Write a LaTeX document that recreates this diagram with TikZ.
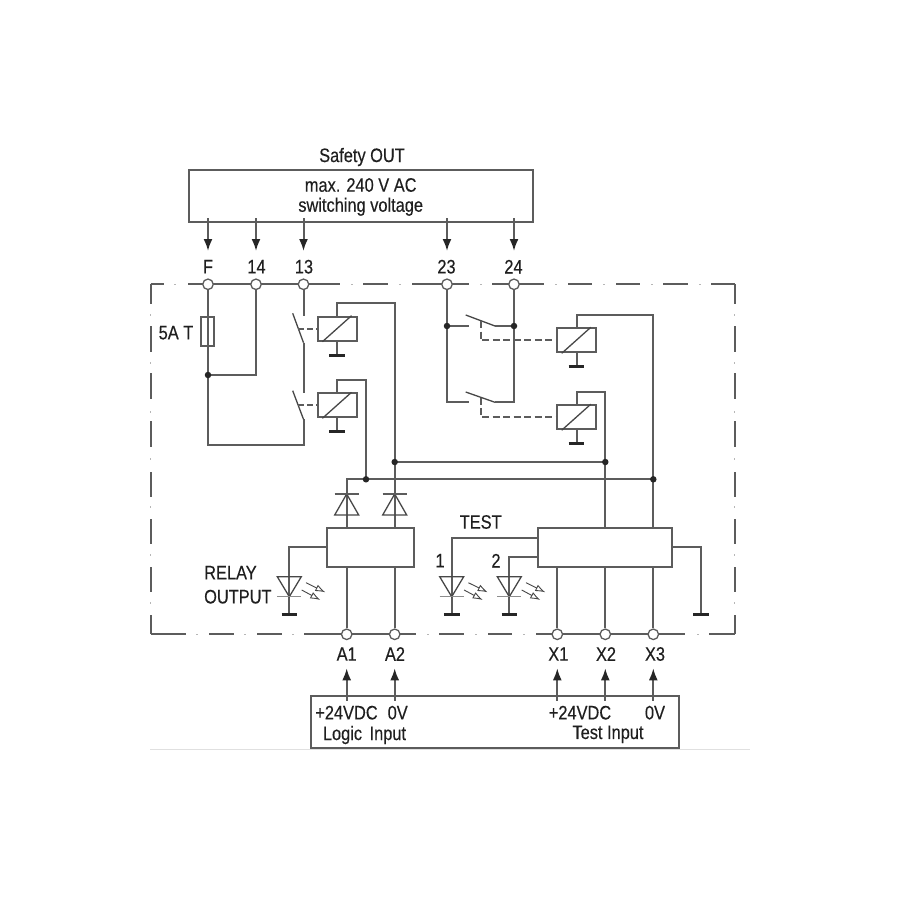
\documentclass[tikz,border=0pt]{standalone}
\usepackage{fontspec}
\setmainfont[FakeStretch=0.84,FakeBold=0.25]{Liberation Sans}
\usetikzlibrary{arrows.meta,calc}
\definecolor{ink}{HTML}{5C5C5C}
\definecolor{tipink}{HTML}{262626}
\tikzset{
  wire/.style={draw=ink,line width=2pt},
  slant/.style={draw=tipink!85,line width=1.3pt},
  flow/.style={wire,-{Latex[length=12pt,width=9pt,color=tipink]}},
  pilot/.style={wire,dash pattern=on 7pt off 3.5pt},
  frameline/.style={wire},
  framedot/.style={draw=ink!45,line width=1pt},
  bar/.style={draw=tipink,line width=3pt},
  terminal/.style={circle,draw=ink,line width=1.3pt,fill=white,minimum size=10.5pt,inner sep=0pt},
  junction/.style={circle,fill=tipink,minimum size=6.5pt,inner sep=0pt},
  block/.style={rectangle,draw=ink,line width=2pt,fill=white,inner sep=0pt},
  coilbox/.style={block,minimum width=38.6pt,minimum height=24pt},
  lbl/.style={font=\fontsize{19.5}{22}\selectfont,text=black!88,inner sep=0pt,anchor=center},
  lightray/.style={draw=tipink!85,line width=.9pt,-{Latex[open,length=10pt,width=7pt]}}
}
% coil: name, centre x, centre y
\newcommand{\coilat}[3]{%
  \node[coilbox] (#1) at (#2,#3) {};
  \draw[slant] ($(#1.south west)+(5.5,0)$) -- ($(#1.north east)+(-6,0)$);
  \coordinate (#1g) at ($(#1.south)+(0,13.3)$);
  \draw[wire] (#1.south) -- (#1g);
  \draw[bar] ($(#1g)+(-7.8,0)$) -- ($(#1g)+(7.8,0)$);
}
% led: x of its wire
\newcommand{\ledat}[1]{%
  \draw[slant] (#1-12,576.7) -- (#1+12,576.7) -- (#1,596.7) -- cycle;
  \draw[draw=ink!70,line width=1pt] (#1-12,596.7) -- (#1+12,596.7);
  \draw[bar] (#1-7.8,614) -- (#1+7.8,614);
  \draw[lightray] (#1+16.7,582.7) -- (#1+36,592.3);
  \draw[lightray] (#1+12.4,590) -- (#1+31,600);
}
\begin{document}
\begin{tikzpicture}[x=1pt,y=-1pt]
\useasboundingbox (0,0) rectangle (900,900);
\fill[white] (0,0) rectangle (900,900);

% faint base line
\draw[draw=black!12,line width=1pt] (150,749.3) -- (750,749.3);

% dash-dot enclosure
\foreach \a/\b in {150.5/164,188/340,363/388,412/442,452/469,492/544,568/592,616/640,663/688,711/734.5}
  \draw[frameline] (\a,284.3) -- (\b,284.3);
\foreach \a in {175,352,400,481,556,604,652,700}
  \draw[framedot] (\a-.8,284.3) -- (\a+.8,284.3);
\foreach \a/\b in {150.5/186,209/234,257/282,304/416,439/464,488/512,536/685,709/734.5}
  \draw[frameline] (\a,634.3) -- (\b,634.3);
\foreach \a in {197,245,293,428,476,524,698}
  \draw[framedot] (\a-.8,634.3) -- (\a+.8,634.3);
\foreach \xx in {150.5,734.5}{
  \foreach \a/\b in {284.3/304,326/352,373/399,421/447,472/497,519/544,567/592,615/634.3}
    \draw[frameline] (\xx,\a) -- (\xx,\b);
  \foreach \a in {315,363,412,459,507,555,603}
    \draw[framedot] (\xx,\a-.8) -- (\xx,\a+.8);
}

% supply boxes
\node[block,minimum width=344.3pt,minimum height=52pt] (out) at (360.85,196) {};
\node[block,minimum width=367.7pt,minimum height=52.3pt] (inp) at (495.15,722.15) {};

% logic blocks
\node[block,minimum width=87pt,minimum height=38.4pt] (logic) at (370.8,547.5) {};
\node[block,minimum width=134.6pt,minimum height=38.4pt] (test) at (605,547.5) {};

% coils
\coilat{c1}{337.2}{328.7}
\coilat{c2}{337.2}{405.3}
\coilat{c3}{576.5}{340.3}
\coilat{c4}{576.5}{417.2}

% fuse
\coordinate (busF) at (208,444.5);
\coordinate (j14) at (208,375);
\draw[wire] (208,284.3) -- (busF) -- (303.5,444.5) -- (303.5,419.3);
\node[block,fill=none,minimum width=13.3pt,minimum height=29pt] (fuse) at (207.7,331.8) {};
\draw[wire] (j14) -| (256,284.3);

% left contacts
\draw[wire] (303.5,284.3) -- (303.5,316);
\draw[slant] (292.7,313.3) -- (303.5,342.7);
\draw[wire] (303.5,342.7) -- (303.5,393);
\draw[slant] (292.7,390.7) -- (303.5,419.3);
\draw[wire,dash pattern=on 6pt off 3pt] (298,328.7) -- (c1.west);
\draw[wire,dash pattern=on 6pt off 3pt] (298,405.3) -- (c2.west);

% right contacts
\coordinate (j23) at (447,326);
\coordinate (j24) at (514,326);
\draw[wire] (447,284.3) -- (447,402.3) -- (469.3,402.3);
\draw[wire] (514,284.3) -- (514,402.3) -- (495,402.3);
\draw[slant] (495,402.3) -- (465.7,392);
\draw[wire] (j23) -- (469.3,326);
\draw[wire] (j24) -- (495,326);
\draw[slant] (495,326) -- (465.7,315);
\draw[pilot] (480.7,321) -- (480.7,340.3) -- (c3.west);
\draw[pilot] (480.7,397.5) -- (480.7,417.2) -- (c4.west);

% coil feeds
\coordinate (busA) at (394.7,462);
\coordinate (busB) at (366,479.3);
\coordinate (busC) at (605.3,462);
\coordinate (busD) at (653.3,479.3);
\draw[wire] (c1.north) -- (337.2,303.3) -- (394.7,303.3) -- (394.7,528.3);
\draw[wire] (c2.north) -- (337.2,379.7) -- (366,379.7) -- (busB);
\draw[wire] (c3.north) -- (576.5,315) -- (653.3,315) -- (653.3,528.3);
\draw[wire] (c4.north) -- (576.5,391.7) -- (605.3,391.7) -- (605.3,528.3);
\draw[wire] (busA) -- (busC);
\draw[wire] (346.7,528.3) -- (346.7,479.3) -- (busD);

% diodes
\foreach \xx in {346.7,394.7}{
  \draw[slant] (\xx-12,515) -- (\xx+12,515) -- (\xx,494) -- cycle;
  \draw[wire] (\xx-12,494) -- (\xx+12,494);
}

% below the logic blocks
\coordinate (ledA) at (289.3,547.3);
\coordinate (ledB) at (451.7,537.7);
\coordinate (ledC) at (509.3,556.7);
\coordinate (gndT) at (701,547.3);
\draw[wire] (logic.west |- ledA) -- (ledA) -- (289.3,614);
\draw[wire] (test.west |- ledB) -- (ledB) -- (451.7,614);
\draw[wire] (test.west |- ledC) -- (ledC) -- (509.3,614);
\draw[wire] (test.east |- gndT) -- (gndT) -- (701,614);
\draw[bar] (693.2,614) -- (708.8,614);
\ledat{289.3}
\ledat{451.7}
\ledat{509.3}

% terminals
\foreach \n/\xx in {F/208,T14/256,T13/303.5,T23/447,T24/514}
  \node[terminal] (\n) at (\xx,284.3) {};
\foreach \n/\xx in {A1/346.7,A2/394.7,X1/557.3,X2/605.3,X3/653.3}
  \node[terminal] (\n) at (\xx,634.3) {};

% links to terminals
\draw[wire] (A1) -- (346.7,566.7);
\draw[wire] (A2) -- (394.7,566.7);
\draw[wire] (X1) -- (557.3,566.7);
\draw[wire] (X2) -- (605.3,566.7);
\draw[wire] (X3) -- (653.3,566.7);

% supply arrows
\foreach \n/\xx in {F/208,T14/256,T13/303.5,T23/447,T24/514}{
  \coordinate (s\n) at (\xx,218);
  \coordinate (e\n) at (\xx,251);
  \draw[flow] (s\n) -- (e\n);
}
\foreach \n/\xx in {A1/346.7,A2/394.7,X1/557.3,X2/605.3,X3/653.3}{
  \coordinate (s\n) at (\xx,700.7);
  \coordinate (e\n) at (\xx,668.3);
  \draw[flow] (s\n) -- (e\n);
}

% junction dots
\foreach \p in {j14,j23,j24,busA,busB,busC,busD}
  \node[junction] at (\p) {};

% texts
\node[lbl] (t1) at (362,157) {Safety OUT};
\node[lbl] (t2) at (360.7,185) {max. 240 V AC};
\node[lbl] (t3) at (360.7,206.7) {switching voltage};
\node[lbl] (lF) at (208,266.7) {F};
\node[lbl] (l14) at (256.5,266.7) {14};
\node[lbl] (l13) at (304,266.7) {13};
\node[lbl] (l23) at (446.5,266.7) {23};
\node[lbl] (l24) at (513.5,266.7) {24};
\node[lbl] (l5a) at (176,332.7) {5A T};
\node[lbl,anchor=west] (lr1) at (204,572.7) {RELAY};
\node[lbl,anchor=west] (lr2) at (204,596.7) {OUTPUT};
\node[lbl] (ltest) at (480.7,522) {TEST};
\node[lbl] (ln1) at (440,560.7) {1};
\node[lbl] (ln2) at (496,560.7) {2};
\node[lbl] (la1) at (346.7,654) {A1};
\node[lbl] (la2) at (395,654) {A2};
\node[lbl] (lx1) at (558.3,654) {X1};
\node[lbl] (lx2) at (606,654) {X2};
\node[lbl] (lx3) at (655,654) {X3};
\node[lbl] (i1) at (346.5,712.7) {+24VDC};
\node[lbl] (i2) at (397.7,712.7) {0V};
\node[lbl] (i3) at (364.5,735) {Logic\hspace{3pt} Input};
\node[lbl] (i4) at (580,712.7) {+24VDC};
\node[lbl] (i5) at (655,712.7) {0V};
\node[lbl] (i6) at (608,734.3) {Test Input};
\end{tikzpicture}
\end{document}
